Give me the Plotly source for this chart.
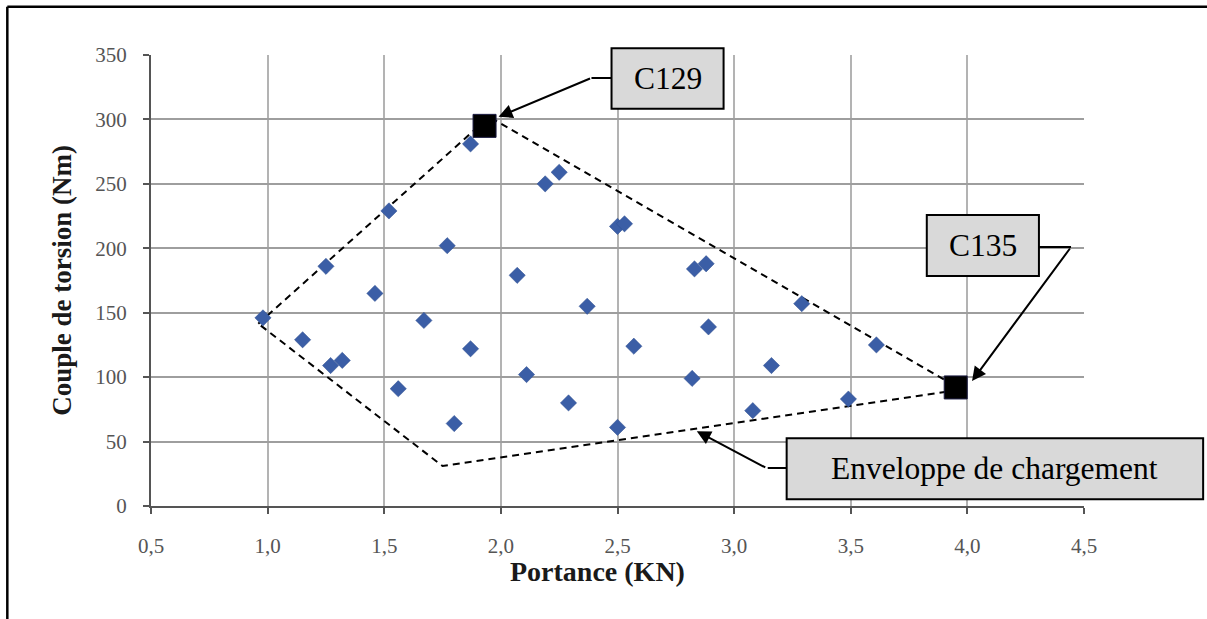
import plotly.graph_objects as go

# ---- data ----
portance = [0.98, 1.15, 1.25, 1.27, 1.32, 1.46, 1.52, 1.56, 1.67, 1.77, 1.80, 1.87, 1.87,
            2.07, 2.11, 2.19, 2.25, 2.29, 2.37, 2.50, 2.50, 2.53, 2.57, 2.82, 2.83, 2.88,
            2.89, 3.08, 3.16, 3.29, 3.49, 3.61]
couple = [146, 129, 186, 109, 113, 165, 229, 91, 144, 202, 64, 122, 281,
          179, 102, 250, 259, 80, 155, 61, 217, 219, 124, 99, 184, 188,
          139, 74, 109, 157, 83, 125]

special_names = ["C129", "C135"]
special_x = [1.93, 3.95]
special_y = [295, 92]

env_x = [0.96, 1.95, 3.92, 3.92, 1.75, 0.96]
env_y = [141.5, 302, 96, 89, 31, 141.5]

x_ticks = [0.5, 1.0, 1.5, 2.0, 2.5, 3.0, 3.5, 4.0, 4.5]
y_ticks = [0, 50, 100, 150, 200, 250, 300, 350]

x_title = "Portance (KN)"
y_title = "Couple de torsion (Nm)"

SERIF = "Liberation Serif, Times New Roman, serif"

fig = go.Figure()

fig.add_trace(go.Scatter(
    x=env_x, y=env_y, mode="lines",
    line=dict(color="black", width=2, dash="7px,5px"),
    hoverinfo="skip", showlegend=False))

fig.add_trace(go.Scatter(
    x=portance, y=couple, mode="markers",
    marker=dict(symbol="diamond", size=12.5, color="#3B5EA6",
                line=dict(color="#2F4F8F", width=0.5)),
    showlegend=False))

fig.add_trace(go.Scatter(
    x=special_x, y=special_y, mode="markers", text=special_names,
    marker=dict(symbol="square", size=23, color="black",
                line=dict(color="#1a1a40", width=1)),
    showlegend=False))

# ---- callout boxes (paper coords) ----
boxes = [
    ("C129", 0.4936, 0.6137, 0.881, 1.0149),
    ("C135", 0.8315, 0.9517, 0.510, 0.645),
    ("Enveloppe de chargement", 0.6813, 1.1277, 0.0149, 0.150),
]
shapes = []
annotations = []
for txt, x0, x1, y0, y1 in boxes:
    shapes.append(dict(type="rect", xref="paper", yref="paper", x0=x0, x1=x1, y0=y0, y1=y1,
                       fillcolor="#D9D9D9", line=dict(color="black", width=2), layer="above"))
    annotations.append(dict(xref="paper", yref="paper", x=(x0 + x1) / 2, y=(y0 + y1) / 2,
                            text=txt, showarrow=False, xanchor="center", yanchor="middle",
                            font=dict(family=SERIF, size=31.5, color="black")))

# elbow horizontal segments
for xa, xb, yy in [(0.4721, 0.4936, 0.949), (0.9517, 0.9861, 0.5743), (0.661, 0.6813, 0.0843)]:
    shapes.append(dict(type="line", xref="paper", yref="paper", x0=xa, x1=xb, y0=yy, y1=yy,
                       line=dict(color="black", width=2), layer="above"))

# arrows (head in data coords, tail offset in pixels)
for hx, hy, ax, ay in [(1.99, 302, 93, -39), (4.02, 97, 99, -134), (2.84, 58, 70, 37)]:
    annotations.append(dict(x=hx, y=hy, xref="x", yref="y", text="", showarrow=True,
                            ax=ax, ay=ay, axref="pixel", ayref="pixel",
                            arrowhead=2, arrowsize=1.4, arrowwidth=2, arrowcolor="black"))

# x-axis title (placed slightly left of centre, as in the original)
annotations.append(dict(xref="paper", yref="paper", x=0.479, y=-0.146,
                        text="<b>" + x_title + "</b>", showarrow=False,
                        xanchor="center", yanchor="middle",
                        font=dict(family=SERIF, size=28, color="#1a1a1a")))

# outer frame (top and left border)
shapes.append(dict(type="line", xref="paper", yref="paper", x0=-0.154, x1=1.2, y0=1.107, y1=1.107,
                   line=dict(color="black", width=2.5), layer="above"))
shapes.append(dict(type="line", xref="paper", yref="paper", x0=-0.154, x1=-0.154, y0=1.107, y1=-0.3,
                   line=dict(color="black", width=2.5), layer="above"))

fig.update_layout(
    template="none",
    width=1207, height=619,
    margin=dict(l=151, r=123, t=55, b=113, autoexpand=False),
    paper_bgcolor="white", plot_bgcolor="white",
    separators=", ",
    shapes=shapes, annotations=annotations,
    showlegend=False,
)

fig.update_xaxes(
    automargin=False,
    range=[0.5, 4.5], tickvals=x_ticks, tickformat=".1f",
    showgrid=True, gridcolor="#B3B3B3", gridwidth=1.5,
    showline=True, linecolor="#555555", linewidth=2,
    ticks="outside", ticklen=6, tickwidth=2, tickcolor="#555555",
    ticklabelstandoff=14, zeroline=False,
    tickfont=dict(family=SERIF, size=21, color="#555555"),
)
fig.update_yaxes(
    automargin=False,
    range=[0, 350], tickvals=y_ticks,
    showgrid=True, gridcolor="#9E9E9E", gridwidth=2,
    showline=True, linecolor="#555555", linewidth=2,
    ticks="outside", ticklen=6, tickwidth=2, tickcolor="#555555",
    ticklabelstandoff=12, zeroline=False,
    tickfont=dict(family=SERIF, size=21, color="#555555"),
    title=dict(text="<b>" + y_title + "</b>", standoff=16,
               font=dict(family=SERIF, size=27, color="#1a1a1a")),
)

fig.write_html("out.html", config={"displayModeBar": False},
               post_script="document.body.style.margin='0';document.body.style.padding='0';")
